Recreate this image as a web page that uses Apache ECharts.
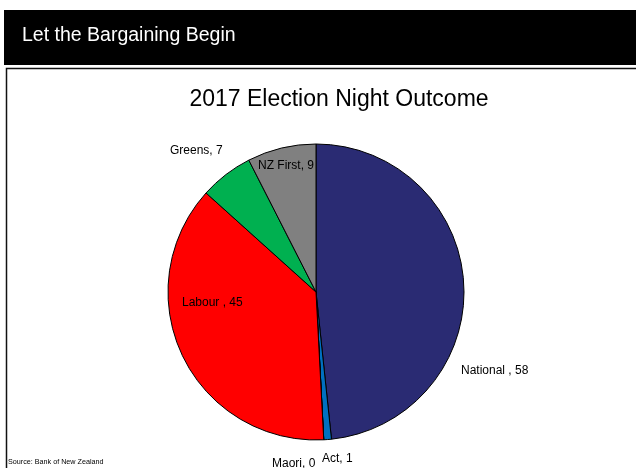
<!DOCTYPE html>
<html>
<head>
<meta charset="utf-8">
<script src="https://cdn.jsdelivr.net/npm/echarts@6/dist/echarts.min.js"></script>
<style>
  html, body { margin: 0; padding: 0; background: #fff; }
  #chart { width: 636px; height: 468px; }
</style>
</head>
<body>
<div id="chart"></div>
<script>
var parties = ['National ', 'Act', 'Maori', 'Labour ', 'Greens', 'NZ First']
var seats = [58, 1, 0, 45, 7, 9]
var colors = ['#2a2b73', '#0070c0', '#7f7f7f', '#ff0000', '#00b050', '#808080']

// where each label sits (left, middle)
var labelPos = [[461, 371], [322, 459], [272, 464], [182, 303], [170, 151], [258, 166]]

var data = []
for (var i = 0; i < parties.length; i++)
{
    data.push({
        name: parties[i],
        value: seats[i],
        itemStyle: { color: colors[i] }
    })
}

var myChart = echarts.init(document.getElementById('chart'));
var option = {
    backgroundColor: '#fff',
    animation: false,
    title: {
        text: '2017 Election Night Outcome',
        left: 334,
        top: 83,
        textAlign: 'center',
        textStyle: {
            fontFamily: 'Liberation Sans, Arial, sans-serif',
            fontSize: 23,
            fontWeight: 'normal',
            color: '#000'
        }
    },
    graphic: [
        {
            type: 'rect',
            shape: { x: 4, y: 10, width: 640, height: 55 },
            style: { fill: '#000' }
        },
        {
            type: 'text',
            left: 22,
            top: 26,
            style: {
                text: 'Let the Bargaining Begin',
                fill: '#fff',
                font: '19.5px "Liberation Sans", Arial, sans-serif'
            }
        },
        {
            type: 'rect',
            shape: { x: 6.5, y: 68.5, width: 640, height: 420 },
            style: { fill: 'none', stroke: '#111', lineWidth: 1.5 }
        },
        {
            type: 'text',
            left: 8,
            top: 459,
            style: {
                text: 'Source: Bank of New Zealand',
                fill: '#000',
                font: '7.2px "Liberation Sans", Arial, sans-serif'
            }
        }
    ],
    series: [
        {
            type: 'pie',
            center: [316, 292],
            radius: 148,
            startAngle: 90,
            clockwise: true,
            avoidLabelOverlap: false,
            itemStyle: { borderColor: '#000', borderWidth: 1 },
            label: {
                show: true,
                formatter: '{b}, {c}',
                fontFamily: 'Liberation Sans, Arial, sans-serif',
                fontSize: 12,
                color: '#000'
            },
            labelLine: { show: false },
            labelLayout: function (params) {
                var p = labelPos[params.dataIndex]
                return { x: p[0], y: p[1], align: 'left', verticalAlign: 'middle' }
            },
            emphasis: { disabled: true },
            data: data
        }
    ]
};
myChart.setOption(option);
</script>
</body>
</html>
